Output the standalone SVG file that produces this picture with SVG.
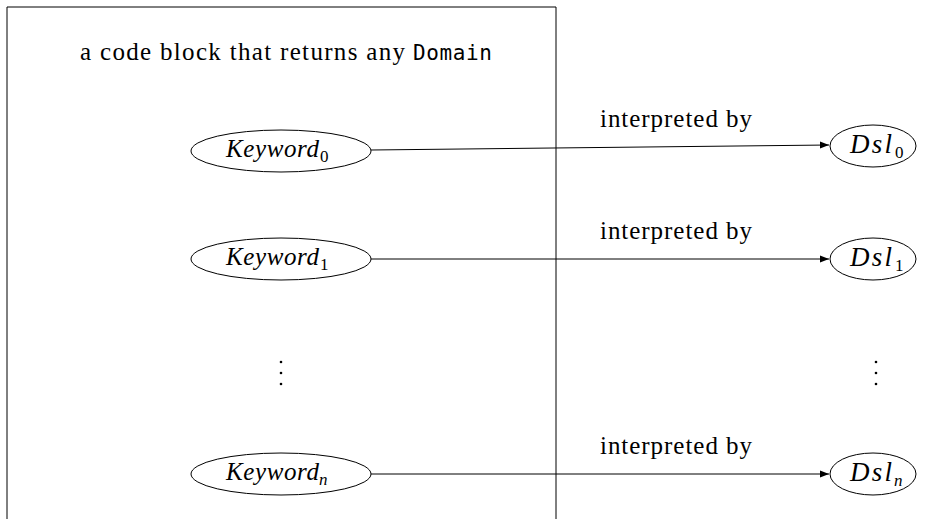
<svg xmlns="http://www.w3.org/2000/svg" width="925" height="519" viewBox="0 0 925 519">
<style>
.t{font-family:"Liberation Serif","DejaVu Serif",serif;font-size:25px;fill:#000}
.i{font-style:italic}
.d{font-size:27px}
.s{font-family:"Liberation Serif","DejaVu Serif",serif;font-size:17px;fill:#000}
.m{font-family:"DejaVu Sans Mono","Liberation Mono",monospace;font-size:21px;fill:#000}
.e{fill:#fff;stroke:#000;stroke-width:1}
.c{stroke:#000;stroke-width:1;fill:none}
</style>
<defs>
<marker id="a" markerWidth="10" markerHeight="8" refX="9" refY="4" orient="auto" markerUnits="userSpaceOnUse">
<path d="M0,0.5 L9,4 L0,7.5 Z" fill="#000"/>
</marker>
</defs>
<rect x="0" y="0" width="925" height="519" fill="#fff"/>
<g id="block">
<path d="M7,530 V7 H556 V530" fill="none" stroke="#000" stroke-width="1"/>
<text class="t" x="80" y="60" textLength="325">a code block that returns any</text>
<text class="m" x="413" y="60" textLength="79">Domain</text>
</g>
<g id="connectors">
<line class="c" x1="371" y1="150" x2="829" y2="145" marker-end="url(#a)"/>
<line class="c" x1="371" y1="259" x2="829" y2="259" marker-end="url(#a)"/>
<line class="c" x1="371" y1="474" x2="829" y2="474" marker-end="url(#a)"/>
<text class="t" x="600" y="127" textLength="152">interpreted by</text>
<text class="t" x="600" y="239" textLength="152">interpreted by</text>
<text class="t" x="600" y="454" textLength="152">interpreted by</text>
</g>
<g id="kw0">
<ellipse class="e" cx="281" cy="151" rx="90" ry="21"/>
<text class="t i" x="226" y="157" textLength="93">Keyword</text>
<text class="s" x="320" y="162">0</text>
</g>
<g id="kw1">
<ellipse class="e" cx="281" cy="259" rx="90" ry="21"/>
<text class="t i" x="226" y="265" textLength="93">Keyword</text>
<text class="s" x="320" y="270">1</text>
</g>
<g id="kwdots">
<circle cx="281" cy="362" r="1.3" fill="#000"/>
<circle cx="281" cy="373" r="1.3" fill="#000"/>
<circle cx="281" cy="384" r="1.3" fill="#000"/>
</g>
<g id="kwn">
<ellipse class="e" cx="281" cy="474" rx="90" ry="21"/>
<text class="t i" x="226" y="480" textLength="93">Keyword</text>
<text class="s i" x="319" y="485">n</text>
</g>
<g id="dsl0">
<ellipse class="e" cx="873" cy="146" rx="43" ry="21"/>
<text class="t i d" x="850" y="153" textLength="42">Dsl</text>
<text class="s" x="895" y="158">0</text>
</g>
<g id="dsl1">
<ellipse class="e" cx="873" cy="259" rx="43" ry="21"/>
<text class="t i d" x="850" y="266" textLength="42">Dsl</text>
<text class="s" x="895" y="271">1</text>
</g>
<g id="dsldots">
<circle cx="876" cy="362" r="1.3" fill="#000"/>
<circle cx="876" cy="373" r="1.3" fill="#000"/>
<circle cx="876" cy="384" r="1.3" fill="#000"/>
</g>
<g id="dsln">
<ellipse class="e" cx="873" cy="474" rx="43" ry="21"/>
<text class="t i d" x="850" y="481" textLength="42">Dsl</text>
<text class="s i" x="894" y="486">n</text>
</g>
</svg>
